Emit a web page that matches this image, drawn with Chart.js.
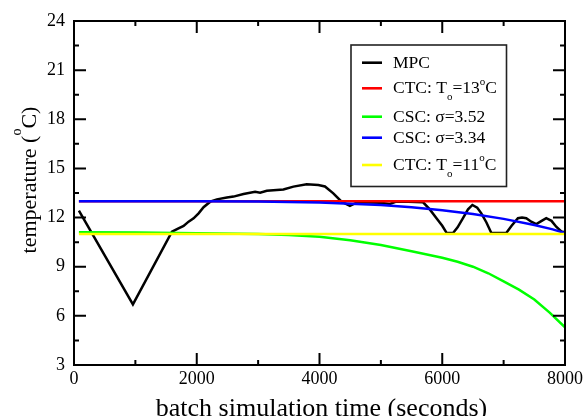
<!DOCTYPE html>
<html><head><meta charset="utf-8">
<script src="https://cdn.jsdelivr.net/npm/chart.js@4/dist/chart.umd.min.js"></script>
<style>html,body{margin:0;padding:0;background:#fff}canvas{display:block}</style>
</head><body>
<canvas id="c" width="586" height="416"></canvas>
<script>
// ---- data ----
const mpcTime = [80, 960, 1596, 1678, 1786, 1867, 1949, 2030, 2111, 2220, 2328, 2491, 2599, 2762, 2951, 3033, 3141, 3412, 3575, 3791, 3981, 4089, 4225, 4360, 4496, 4577, 4659, 4800, 4984, 5146, 5250, 5450, 5688, 5797, 5906, 6000, 6068, 6176, 6250, 6338, 6420, 6491, 6570, 6637, 6720, 6800, 7043, 7130, 7233, 7300, 7369, 7450, 7532, 7620, 7694, 7780, 7857, 7940, 8000];
const mpcTemp = [12.42, 6.7, 11.14, 11.30, 11.49, 11.75, 11.95, 12.26, 12.63, 12.97, 13.11, 13.22, 13.28, 13.44, 13.58, 13.52, 13.64, 13.72, 13.89, 14.03, 13.99, 13.9, 13.48, 12.97, 12.72, 12.87, 12.93, 12.92, 12.9, 12.83, 12.97, 12.97, 12.93, 12.5, 11.96, 11.5, 11.08, 11.06, 11.4, 11.96, 12.5, 12.77, 12.6, 12.26, 11.7, 11.06, 11.06, 11.5, 11.96, 12.0, 11.96, 11.75, 11.6, 11.8, 11.96, 11.8, 11.44, 11.15, 11.1];
const ctc13Time = [80, 8000];
const ctc13Temp = [13, 13];
const csc352Time = [80, 1000, 2000, 3000, 3500, 4000, 4500, 5000, 5500, 6000, 6250, 6500, 6750, 7000, 7250, 7500, 7750, 8000];
const csc352Temp = [11.1, 11.09, 11.05, 11.0, 10.93, 10.83, 10.62, 10.32, 9.95, 9.55, 9.3, 9.0, 8.6, 8.1, 7.6, 7.0, 6.2, 5.3];
const csc334Time = [80, 1000, 2000, 3000, 3500, 4000, 4500, 5000, 5500, 6000, 6500, 7000, 7500, 7800, 8000];
const csc334Temp = [13, 13, 13, 12.98, 12.95, 12.92, 12.85, 12.76, 12.63, 12.45, 12.22, 11.92, 11.55, 11.28, 11.05];
const ctc11Time = [80, 8000];
const ctc11Temp = [11, 11];
const seriesLabels = ["MPC", "CTC: T_o=13^oC", "CSC: σ=3.52", "CSC: σ=3.34", "CTC: T_o=11^oC"];
const seriesColors = ["#000000", "#ff0000", "#00ff00", "#0000ff", "#ffff00"];
const xTickValues = [0, 2000, 4000, 6000, 8000];
const xMinorValues = [1000, 3000, 5000, 7000];
const yTickValues = [3, 6, 9, 12, 15, 18, 21, 24];
const yMinorValues = [4.5, 7.5, 10.5, 13.5, 16.5, 19.5, 22.5];
const xTitle = "batch simulation time (seconds)";
const yTitle = "temperature (^oC)";

const SERIF = "'Liberation Serif','Times New Roman',serif";
const pts = (t, v) => t.map((x, i) => ({x: x, y: v[i]}));
const seriesData = [pts(mpcTime, mpcTemp), pts(ctc13Time, ctc13Temp), pts(csc352Time, csc352Temp), pts(csc334Time, csc334Temp), pts(ctc11Time, ctc11Temp)];

function parseRich(s) {
  const out = [];
  let buf = '';
  for (let i = 0; i < s.length; i++) {
    const ch = s[i];
    if ((ch === '_' || ch === '^') && i + 1 < s.length) {
      if (buf) { out.push({t: buf, m: ''}); buf = ''; }
      out.push({t: s[i + 1], m: ch === '_' ? 'sub' : 'sup'});
      i++;
    } else buf += ch;
  }
  if (buf) out.push({t: buf, m: ''});
  return out;
}
function drawRich(ctx, s, x, y, size, align, supRaise, subDrop) {
  const parts = parseRich(s);
  const small = Math.round(size * 0.65);
  let w = 0;
  parts.forEach(p => { ctx.font = (p.m ? small : size) + 'px ' + SERIF; p.w = ctx.measureText(p.t).width; w += p.w; });
  let cx = align === 'center' ? x - w / 2 : x;
  ctx.textAlign = 'left';
  parts.forEach(p => {
    ctx.font = (p.m ? small : size) + 'px ' + SERIF;
    const dy = p.m === 'sub' ? size * subDrop : p.m === 'sup' ? -size * supRaise : 0;
    ctx.fillText(p.t, cx, y + dy);
    cx += p.w;
  });
}

const framePlugin = {
  id: 'frame',
  afterDatasetsDraw(chart) {
    const ctx = chart.ctx, a = chart.chartArea;
    const xs = chart.scales.x, ys = chart.scales.y;
    ctx.save();
    ctx.strokeStyle = '#000';
    ctx.lineWidth = 2;
    ctx.beginPath();
    const major = 12, minor = 5;
    xTickValues.forEach(v => { const p = xs.getPixelForValue(v); ctx.moveTo(p, a.bottom); ctx.lineTo(p, a.bottom - major); ctx.moveTo(p, a.top); ctx.lineTo(p, a.top + major); });
    xMinorValues.forEach(v => { const p = xs.getPixelForValue(v); ctx.moveTo(p, a.bottom); ctx.lineTo(p, a.bottom - minor); ctx.moveTo(p, a.top); ctx.lineTo(p, a.top + minor); });
    yTickValues.forEach(v => { const p = ys.getPixelForValue(v); ctx.moveTo(a.left, p); ctx.lineTo(a.left + major, p); ctx.moveTo(a.right, p); ctx.lineTo(a.right - major, p); });
    yMinorValues.forEach(v => { const p = ys.getPixelForValue(v); ctx.moveTo(a.left, p); ctx.lineTo(a.left + minor, p); ctx.moveTo(a.right, p); ctx.lineTo(a.right - minor, p); });
    ctx.stroke();
    ctx.strokeRect(a.left, a.top, a.right - a.left, a.bottom - a.top);

    // axis titles
    ctx.fillStyle = '#000';
    ctx.textBaseline = 'alphabetic';
    drawRich(ctx, xTitle, (a.left + a.right) / 2 + 2, 416, 26, 'center', 0.4, 0.45);
    ctx.save();
    ctx.translate(36, 180);
    ctx.rotate(-Math.PI / 2);
    ctx.textBaseline = 'alphabetic';
    drawRich(ctx, yTitle, 0, 0, 22, 'center', 0.68, 0.45);
    ctx.restore();

    // legend
    const bx = 351, by = 45, bw = 155.5, bh = 141.5;
    ctx.fillStyle = '#fff';
    ctx.fillRect(bx, by, bw, bh);
    ctx.strokeStyle = '#222';
    ctx.lineWidth = 1.6;
    ctx.strokeRect(bx, by, bw, bh);
    const rowY = [62.7, 88.3, 116.7, 137.7, 165];
    seriesLabels.forEach((lab, i) => {
      ctx.strokeStyle = chart.data.datasets[i].borderColor;
      ctx.lineWidth = 2.6;
      ctx.beginPath();
      ctx.moveTo(362, rowY[i]); ctx.lineTo(382, rowY[i]);
      ctx.stroke();
      ctx.fillStyle = '#000';
      ctx.textBaseline = 'middle';
      drawRich(ctx, lab, 393, rowY[i] + 0.5, 17.5, 'left', 0.4, 0.47);
    });
    ctx.restore();
  }
};

const drawOrder = [4, 3, 2, 1, 0]; // yellow on top, MPC at bottom
new Chart(document.getElementById('c'), {
  type: 'line',
  data: {
    datasets: seriesData.map((d, i) => ({
      label: seriesLabels[i],
      data: d,
      borderColor: seriesColors[i],
      backgroundColor: seriesColors[i],
      borderWidth: 2.5,
      pointRadius: 0,
      tension: 0,
      fill: false,
      order: drawOrder[i]
    }))
  },
  options: {
    responsive: false,
    animation: false,
    devicePixelRatio: 1,
    layout: {padding: {left: 0, top: 21, right: 20, bottom: 0}},
    plugins: {legend: {display: false}, tooltip: {enabled: false}},
    scales: {
      x: {
        type: 'linear', min: 0, max: 8000,
        afterFit: s => { s.height = 51; },
        afterBuildTicks: s => { s.ticks = xTickValues.map(v => ({value: v})); },
        ticks: {color: '#000', font: {family: SERIF, size: 18}, padding: 3, maxRotation: 0, autoSkip: false, callback: v => String(v)},
        grid: {display: false, drawTicks: false, tickLength: 0},
        border: {display: false}
      },
      y: {
        type: 'linear', min: 3, max: 24,
        afterFit: s => { s.width = 74; },
        afterBuildTicks: s => { s.ticks = yTickValues.map(v => ({value: v})); },
        ticks: {color: '#000', font: {family: SERIF, size: 18}, padding: 9, autoSkip: false, callback: v => String(v)},
        grid: {display: false, drawTicks: false, tickLength: 0},
        border: {display: false}
      }
    }
  },
  plugins: [framePlugin]
});
</script>
</body></html>
